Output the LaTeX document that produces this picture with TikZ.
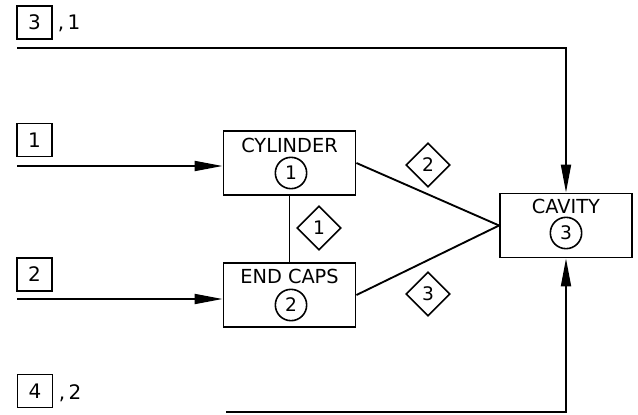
\documentclass[tikz,border=0pt]{standalone}
\usepackage{fontspec}
\setmainfont{DejaVu Sans}
\usetikzlibrary{shapes.geometric,arrows.meta}
\begin{document}
\begin{tikzpicture}[x=0.75pt,y=-0.75pt,
  line width=1.4pt,
  blk/.style={draw,rectangle,minimum width=99pt,minimum height=48pt,inner sep=0pt},
  ttl/.style={font=\fontsize{14.5}{16}\selectfont,inner sep=0pt},
  num/.style={draw,circle,minimum size=23.5pt,inner sep=0pt,font=\fontsize{14}{15}\selectfont,line width=1.2pt},
  sq/.style={draw,rectangle,minimum width=26pt,minimum height=24.5pt,inner sep=0pt,font=\fontsize{15}{16}\selectfont,line width=1.2pt},
  dia/.style={draw,diamond,aspect=1,minimum width=33pt,minimum height=33pt,inner sep=0pt,font=\fontsize{14}{15}\selectfont,line width=1.2pt},
  side/.style={anchor=base west,inner sep=0pt,font=\fontsize{15}{16}\selectfont},
  arr/.style={-{Triangle[length=21pt,width=7.5pt]}}
]
\useasboundingbox (0,0) rectangle (638,414);
% boxes
\node[blk] (cyl) at (289.5,163) {};
\node[ttl] (cylt) at (289.5,145) {CYLINDER};
\node[num] (c1) at (291,173) {1};
\node[blk] (end) at (289.5,295) {};
\node[ttl] (endt) at (289.5,276) {END CAPS};
\node[num] (c2) at (291,305) {2};
\node[blk] (cav) at (566,225.5) {};
\node[ttl] (cavt) at (566,206) {CAVITY};
\node[num] (c3) at (566,233) {3};
% input boxes
\node[sq] (b3) at (34.5,22.5) {3};
\node[side] (l3) at (57,29) {,\,1};
\node[sq] (b1) at (34.5,140) {1};
\node[sq] (b2) at (34.5,274.5) {2};
\node[sq] (b4) at (35,391) {4};
\node[side] (l4) at (58,399) {,\,2};
% diamonds
\node[dia] (d1) at (319,228) {1};
\node[dia] (d2) at (428,165) {2};
\node[dia] (d3) at (428,294) {3};
% coordinates
\coordinate (tl) at (17,48);
\coordinate (tr) at (566,48);
\coordinate (in1) at (17,166);
\coordinate (in2) at (17,299);
\coordinate (bl) at (226,412);
\coordinate (br) at (566,412);
\coordinate (meet) at (cav.west);
% connectors
\draw[arr] (tl) -- (tr) -- (cav.north);
\draw[arr] (in1) -- (in1 -| cyl.west);
\draw[arr] (in2) -- (in2 -| end.west);
\draw[arr] (bl) -- (br) -- (cav.south);
\draw (cyl.south) -- (end.north);
\draw (cyl.east) -- (meet);
\draw (end.east) -- (meet);
\end{tikzpicture}
\end{document}
